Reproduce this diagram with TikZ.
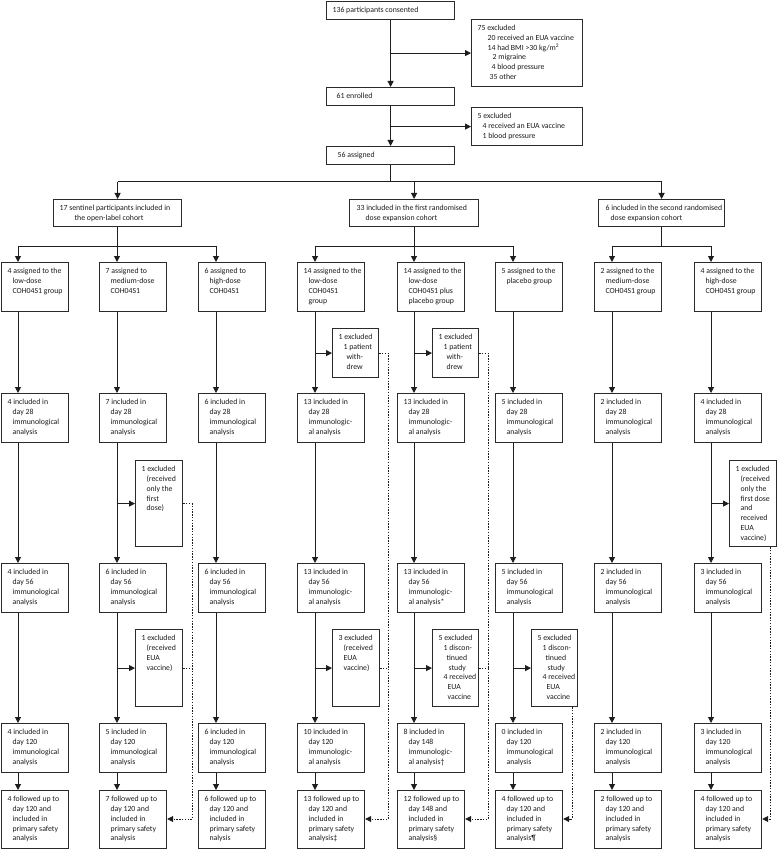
\documentclass[tikz,border=0pt]{standalone}
\usepackage{fontspec}
\setmainfont{Carlito}
\usetikzlibrary{arrows.meta}
\definecolor{linec}{HTML}{1E1E1E}
\definecolor{boxc}{HTML}{2A2A2A}
\definecolor{txtc}{HTML}{1A1A1A}
\newcommand{\boxtext}{\fontsize{7.8}{9.8}\selectfont\hbadness=10000\hfuzz=50pt\leftskip=6pt\rightskip=-15pt plus 1fil\hangindent=5pt\hangafter=1\rule{0pt}{11pt}\ignorespaces}
\newcommand{\bx}[6]{\node[box] (#1) at (#2,#3) {\parbox[t][#5pt][t]{#4pt}{\boxtext #6}};}
\newcommand{\hs}[1]{\hspace*{#1pt}}
\tikzset{
  box/.style={draw=boxc, line width=1.2pt, inner sep=0pt, anchor=north west, text=txtc},
  ln/.style={draw=linec, line width=1pt},
  arr/.style={ln, -{Triangle[width=6pt,length=6pt]}},
  dotln/.style={draw=linec, line width=0.9pt, dash pattern=on 1.4pt off 1.4pt},
  dotarr/.style={dotln, -{Triangle[width=6pt,length=6pt]}}
}
\begin{document}
\begin{tikzpicture}[x=1pt,y=-1pt]
\useasboundingbox (0,0) rectangle (777,850);
% level coordinates
\coordinate (y182) at (0,182);
\coordinate (y246) at (0,246);
\coordinate (y819) at (0,819);
\coordinate (L1) at (18,0);
\coordinate (L2) at (117,0);
\coordinate (L3) at (216,0);
\coordinate (L4) at (315,0);
\coordinate (L5) at (414,0);
\coordinate (L6) at (513,0);
\coordinate (L7) at (612,0);
\coordinate (L8) at (711,0);

% top part
\bx{top}{326}{1}{128}{18}{136 participants consented}
\bx{exa}{471}{19}{111}{67}{75 excluded\\\hs{5}20 received an EUA vaccine\\\hs{5}14 had BMI >30 kg/m\textsuperscript{2}\\\hs{10}2 migraine\\\hs{9}4 blood pressure\\\hs{7}35 other}
\bx{enr}{326}{87}{128}{18}{\hs{4}61 enrolled}
\bx{exb}{471}{107}{111}{38}{5 excluded\\4 received an EUA vaccine\\1 blood pressure}
\bx{asg}{326}{146}{128}{18}{\hs{5}56 assigned}

% cohorts
\bx{coha}{53}{199}{128}{27}{17 sentinel participants included in\\\hs{10}the open-label cohort}
\bx{cohb}{349}{199}{129}{27}{\hs{1}33 included in the first randomised\\\hs{5}dose expansion cohort}
\bx{cohc}{598}{199}{126}{27}{\hs{1}6 included in the second randomised\\\hs{1}dose expansion cohort}

% row A
\bx{A1}{1}{262}{67}{49}{4 assigned to the\\low-dose\\COH04S1 group}
\bx{A2}{99}{262}{67}{49}{7 assigned to\\medium-dose\\COH04S1}
\bx{A3}{198}{262}{67}{49}{6 assigned to\\high-dose\\COH04S1}
\bx{A4}{297}{262}{67}{49}{14 assigned to the\\low-dose\\COH04S1\\group}
\bx{A5}{397}{262}{67}{49}{14 assigned to the\\low-dose\\COH04S1 plus\\placebo group}
\bx{A6}{495}{262}{67}{49}{5 assigned to the\\placebo group}
\bx{A7}{594}{262}{67}{49}{2 assigned to the\\medium-dose\\COH04S1 group}
\bx{A8}{694}{262}{67}{49}{4 assigned to the\\high-dose\\COH04S1 group}

% row B
\bx{B1}{1}{393}{67}{49}{4 included in\\day 28\\immunological\\analysis}
\bx{B2}{99}{393}{67}{49}{7 included in\\day 28\\immunological\\analysis}
\bx{B3}{198}{393}{67}{49}{6 included in\\day 28\\immunological\\analysis}
\bx{B4}{297}{393}{67}{49}{13 included in\\day 28\\immunologic-\\al analysis}
\bx{B5}{397}{393}{67}{49}{13 included in\\day 28\\immunologic-\\al analysis}
\bx{B6}{495}{393}{67}{49}{5 included in\\day 28\\immunological\\analysis}
\bx{B7}{594}{393}{67}{49}{2 included in\\day 28\\immunological\\analysis}
\bx{B8}{694}{393}{67}{49}{4 included in\\day 28\\immunological\\analysis}

% row C
\bx{C1}{1}{563}{67}{49}{4 included in\\day 56\\immunological\\analysis}
\bx{C2}{99}{563}{67}{49}{6 included in\\day 56\\immunological\\analysis}
\bx{C3}{198}{563}{67}{49}{6 included in\\day 56\\immunological\\analysis}
\bx{C4}{297}{563}{67}{49}{13 included in\\day 56\\immunologic-\\al analysis}
\bx{C5}{397}{563}{67}{49}{13 included in\\day 56\\immunologic-\\al analysis*}
\bx{C6}{495}{563}{67}{49}{5 included in\\day 56\\immunological\\analysis}
\bx{C7}{594}{563}{67}{49}{2 included in\\day 56\\immunological\\analysis}
\bx{C8}{694}{563}{67}{49}{3 included in\\day 56\\immunological\\analysis}

% row D
\bx{D1}{1}{723}{67}{49}{4 included in\\day 120\\immunological\\analysis}
\bx{D2}{99}{723}{67}{49}{5 included in\\day 120\\immunological\\analysis}
\bx{D3}{198}{723}{67}{49}{6 included in\\day 120\\immunological\\analysis}
\bx{D4}{297}{723}{67}{49}{10 included in\\day 120\\immunologic-\\al analysis}
\bx{D5}{397}{723}{67}{49}{8 included in\\day 148\\immunologic-\\al analysis†}
\bx{D6}{495}{723}{67}{49}{0 included in\\day 120\\immunological\\analysis}
\bx{D7}{594}{723}{67}{49}{2 included in\\day 120\\immunological\\analysis}
\bx{D8}{694}{723}{67}{49}{3 included in\\day 120\\immunological\\analysis}

% row E
\bx{E1}{1}{790}{67}{58}{4 followed up to\\day 120 and\\included in\\primary safety\\analysis}
\bx{E2}{99}{790}{67}{58}{7 followed up to\\day 120 and\\included in\\primary safety\\analysis}
\bx{E3}{198}{790}{67}{58}{6 followed up to\\day 120 and\\included in\\primary safety\\nalysis}
\bx{E4}{297}{790}{67}{58}{13 followed up to\\day 120 and\\included in\\primary safety\\analysis‡}
\bx{E5}{397}{790}{67}{58}{12 followed up to\\day 148 and\\included in\\primary safety\\analysis§}
\bx{E6}{495}{790}{67}{58}{4 followed up to\\day 120 and\\included in\\primary safety\\analysis¶}
\bx{E7}{594}{790}{67}{58}{2 followed up to\\day 120 and\\included in\\primary safety\\analysis}
\bx{E8}{694}{790}{67}{58}{4 followed up to\\day 120 and\\included in\\primary safety\\analysis}

% exclusion boxes
\bx{x4a}{332}{328}{46}{49}{1 excluded\\1 patient\\\hs{3}with-\\\hs{3}drew}
\bx{x5a}{432}{328}{46}{49}{1 excluded\\1 patient\\\hs{3}with-\\\hs{3}drew}
\bx{x2a}{135}{460}{47}{86}{1 excluded\\(received\\only the\\first\\dose)}
\bx{x8a}{729}{460}{47}{86}{1 excluded\\(received\\only the\\first dose\\and\\received\\EUA\\vaccine)}
\bx{x2b}{135}{629}{47}{77}{1 excluded\\(received\\EUA\\vaccine)}
\bx{x4b}{332}{629}{47}{77}{3 excluded\\(received\\EUA\\vaccine)}
\bx{x5b}{432}{629}{46}{77}{5 excluded\\1 discon-\\\hs{3}tinued\\\hs{5}study\\4 received\\\hs{4}EUA\\\hs{4}vaccine}
\bx{x6b}{531}{629}{46}{77}{5 excluded\\1 discon-\\\hs{3}tinued\\\hs{5}study\\4 received\\\hs{4}EUA\\\hs{4}vaccine}

% top connectors
\draw[arr] (top.south) -- (enr.north);
\draw[arr] (top.south |- exa.west) -- (exa.west);
\draw[arr] (enr.south) -- (asg.north);
\draw[arr] (enr.south |- exb.west) -- (exb.west);
\draw[ln] (asg.south) -- (asg.south |- y182);
\draw[ln] (coha.north |- y182) -- (cohc.north |- y182);
\draw[arr] (coha.north |- y182) -- (coha.north);
\draw[arr] (cohb.north |- y182) -- (cohb.north);
\draw[arr] (cohc.north |- y182) -- (cohc.north);

% cohort to groups
\draw[ln] (coha.south) -- (coha.south |- y246);
\draw[ln] (cohb.south) -- (cohb.south |- y246);
\draw[ln] (cohc.south) -- (cohc.south |- y246);
\draw[ln] (L1 |- y246) -- (L3 |- y246);
\draw[ln] (L4 |- y246) -- (L6 |- y246);
\draw[ln] (L7 |- y246) -- (L8 |- y246);
\foreach \c in {1,...,8}{
  \draw[arr] (L\c |- y246) -- (A\c.north -| L\c);
  \draw[arr] (A\c.south -| L\c) -- (B\c.north -| L\c);
  \draw[arr] (B\c.south -| L\c) -- (C\c.north -| L\c);
  \draw[arr] (C\c.south -| L\c) -- (D\c.north -| L\c);
  \draw[arr] (D\c.south -| L\c) -- (E\c.north -| L\c);
}

% branches to exclusion boxes
\draw[arr] (L4 |- x4a.west) -- (x4a.west);
\draw[arr] (L5 |- x5a.west) -- (x5a.west);
\draw[arr] (L2 |- x2a.west) -- (x2a.west);
\draw[arr] (L8 |- x8a.west) -- (x8a.west);
\draw[arr] (L2 |- x2b.west) -- (x2b.west);
\draw[arr] (L4 |- x4b.west) -- (x4b.west);
\draw[arr] (L5 |- x5b.west) -- (x5b.west);
\draw[arr] (L6 |- x6b.west) -- (x6b.west);

% dotted connectors
\draw[dotarr] (x2a.east) -- ++(9,0) coordinate (d2) -- (d2 |- y819) -- (E2.east |- y819);
\draw[dotln] (x2b.east) -- (x2b.east -| d2);
\draw[dotarr] (x4a.east) -- ++(9,0) coordinate (d4) -- (d4 |- y819) -- (E4.east |- y819);
\draw[dotln] (x4b.east) -- (x4b.east -| d4);
\draw[dotarr] (x5a.east) -- ++(9,0) coordinate (d5) -- (d5 |- y819) -- (E5.east |- y819);
\draw[dotln] (x5b.east) -- (x5b.east -| d5);
\coordinate (d6) at (572,0);
\draw[dotarr] (d6 |- x6b.south) -- (d6 |- y819) -- (E6.east |- y819);
\coordinate (d8) at (770,0);
\draw[dotarr] (d8 |- x8a.south) -- (d8 |- y819) -- (E8.east |- y819);
\end{tikzpicture}
\end{document}
